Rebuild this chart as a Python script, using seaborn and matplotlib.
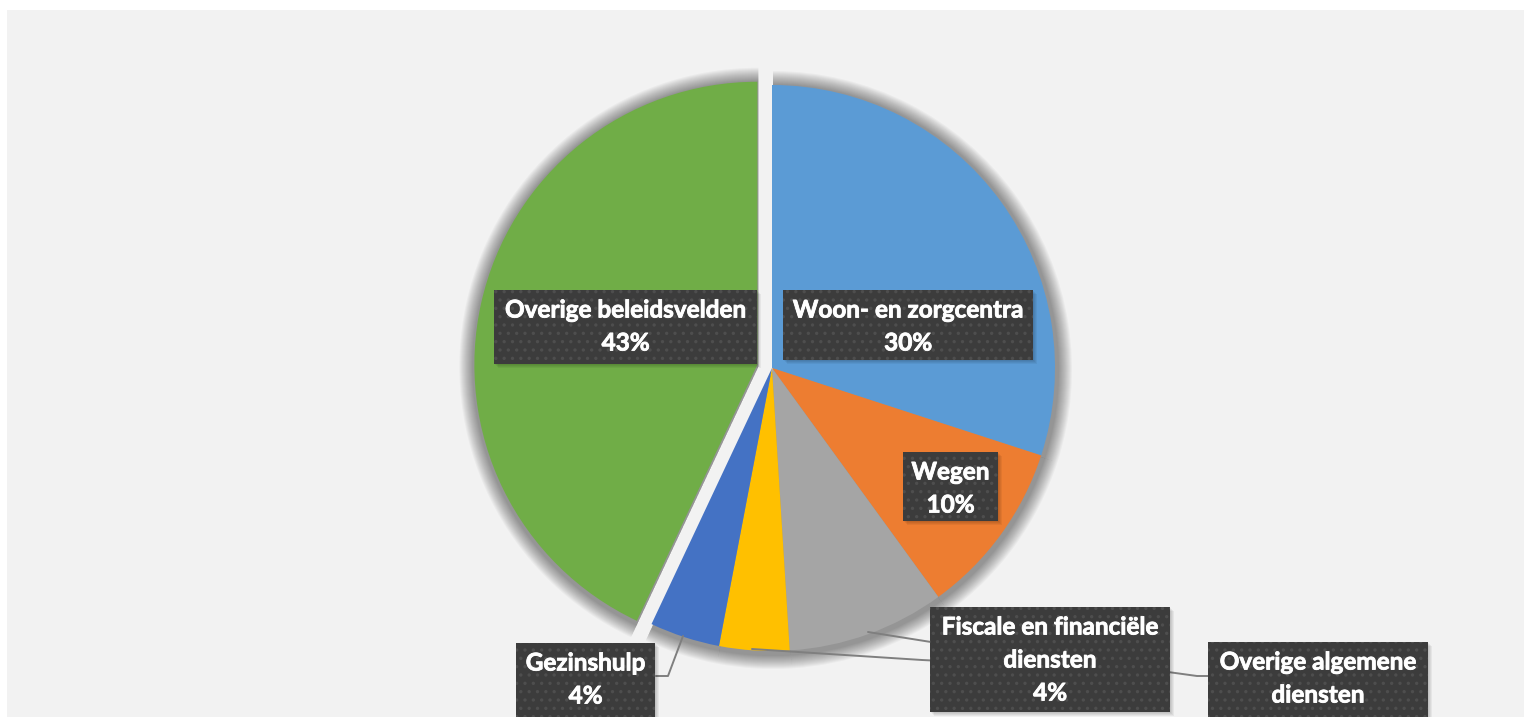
"""
Pie chart: verdeling van de uitgaven per beleidsveld.
Recreated with matplotlib/seaborn, saved as out.png.
"""

import matplotlib
matplotlib.use("Agg")
import matplotlib.pyplot as plt
import seaborn as sns
from matplotlib.patches import Rectangle
import matplotlib.patheffects as pe

sns.set_style("white")
plt.rcParams['font.family'] = ['Lato', 'DejaVu Sans']
plt.rcParams['hatch.linewidth'] = 1.2

# ============================================================================
# DATA
# ============================================================================

categories = ['Woon- en zorgcentra', 'Wegen', 'Overige algemene diensten',
              'Fiscale en financiële diensten', 'Gezinshulp', 'Overige beleidsvelden']
shares = [30, 10, 9, 4, 4, 43]
colors = ['#5B9BD5', '#ED7D31', '#A5A5A5', '#FFC000', '#4472C4', '#70AD47']

# how each label wraps in its box
label_lines = [
    ['Woon- en zorgcentra'],
    ['Wegen'],
    ['Overige algemene', 'diensten'],
    ['Fiscale en financiële', 'diensten'],
    ['Gezinshulp'],
    ['Overige beleidsvelden'],
]

# ============================================================================
# LAYOUT (pixel coordinates, image y measured from top)
# ============================================================================

W, H = 1524, 717
center = (772, 368)
radius = 283
explode = [0, 0, 0, 0, 0, 15]   # pixels, last slice pulled out

# label boxes: x0, x1, y_top, y_bottom
boxes = [
    (783, 1033, 290, 360),
    (903, 998, 452, 521),
    (1208, 1428, 642, 745),
    (930, 1170, 607, 712),
    (516, 655, 643, 717),
    (494, 757, 290, 364),
]

leaders = [
    [(683, 636), (668, 676), (656, 676)],
    [(868, 632), (931, 642)],
    [(752, 649), (922, 660), (1168, 672), (1197, 676), (1209, 676)],
]


def fy(y):
    return H - y


fig = plt.figure(figsize=(W / 100, H / 100), dpi=100)
fig.patch.set_facecolor('white')
ax = fig.add_axes([0, 0, 1, 1])

cx, cy = center[0], fy(center[1])

# soft shadow under the pie
for k in range(14):
    ax.pie(shares, explode=explode, radius=radius + 16 - k,
           center=(cx + 1, cy - 2), startangle=90, counterclock=False,
           colors=['black'] * len(shares),
           wedgeprops=dict(alpha=0.03, linewidth=0))

wedges, _ = ax.pie(shares, explode=explode, radius=radius, center=(cx, cy),
                   startangle=90, counterclock=False, colors=colors,
                   wedgeprops=dict(linewidth=0))

# leader lines
for pts in leaders:
    xs = [p[0] for p in pts]
    ys = [fy(p[1]) for p in pts]
    ax.plot(xs, ys, color='#7F7F7F', linewidth=1.4, zorder=3)

# data label boxes
stroke = [pe.withStroke(linewidth=0.6, foreground='white')]
for lines, share, (x0, x1, yt, yb) in zip(label_lines, shares, boxes):
    for s in range(4):
        ax.add_patch(Rectangle((x0 + 1 + s, fy(yb) - 1 - s), x1 - x0, yb - yt,
                               facecolor='black', alpha=0.05, linewidth=0, zorder=4))
    ax.add_patch(Rectangle((x0, fy(yb)), x1 - x0, yb - yt, facecolor='#3C3C3C',
                           edgecolor='#4E4E4E', hatch='..', linewidth=0, zorder=5))
    text_lines = lines + [f'{share}%']
    xc = (x0 + x1) / 2
    for i, t in enumerate(text_lines):
        ax.text(xc, fy(yt + 20 + 33 * i), t, ha='center', va='center',
                fontsize=17.5, fontweight='bold', color='white', zorder=6,
                path_effects=stroke)

# chart area background
ax.add_patch(Rectangle((7, 0), W - 7, H - 10, facecolor='#F2F2F2',
                       linewidth=0, zorder=-10))

ax.set_xlim(0, W)
ax.set_ylim(0, H)
ax.set_aspect('equal')
ax.axis('off')

fig.savefig('out.png', dpi=100, facecolor='white')
print("[OK] Saved: out.png")
